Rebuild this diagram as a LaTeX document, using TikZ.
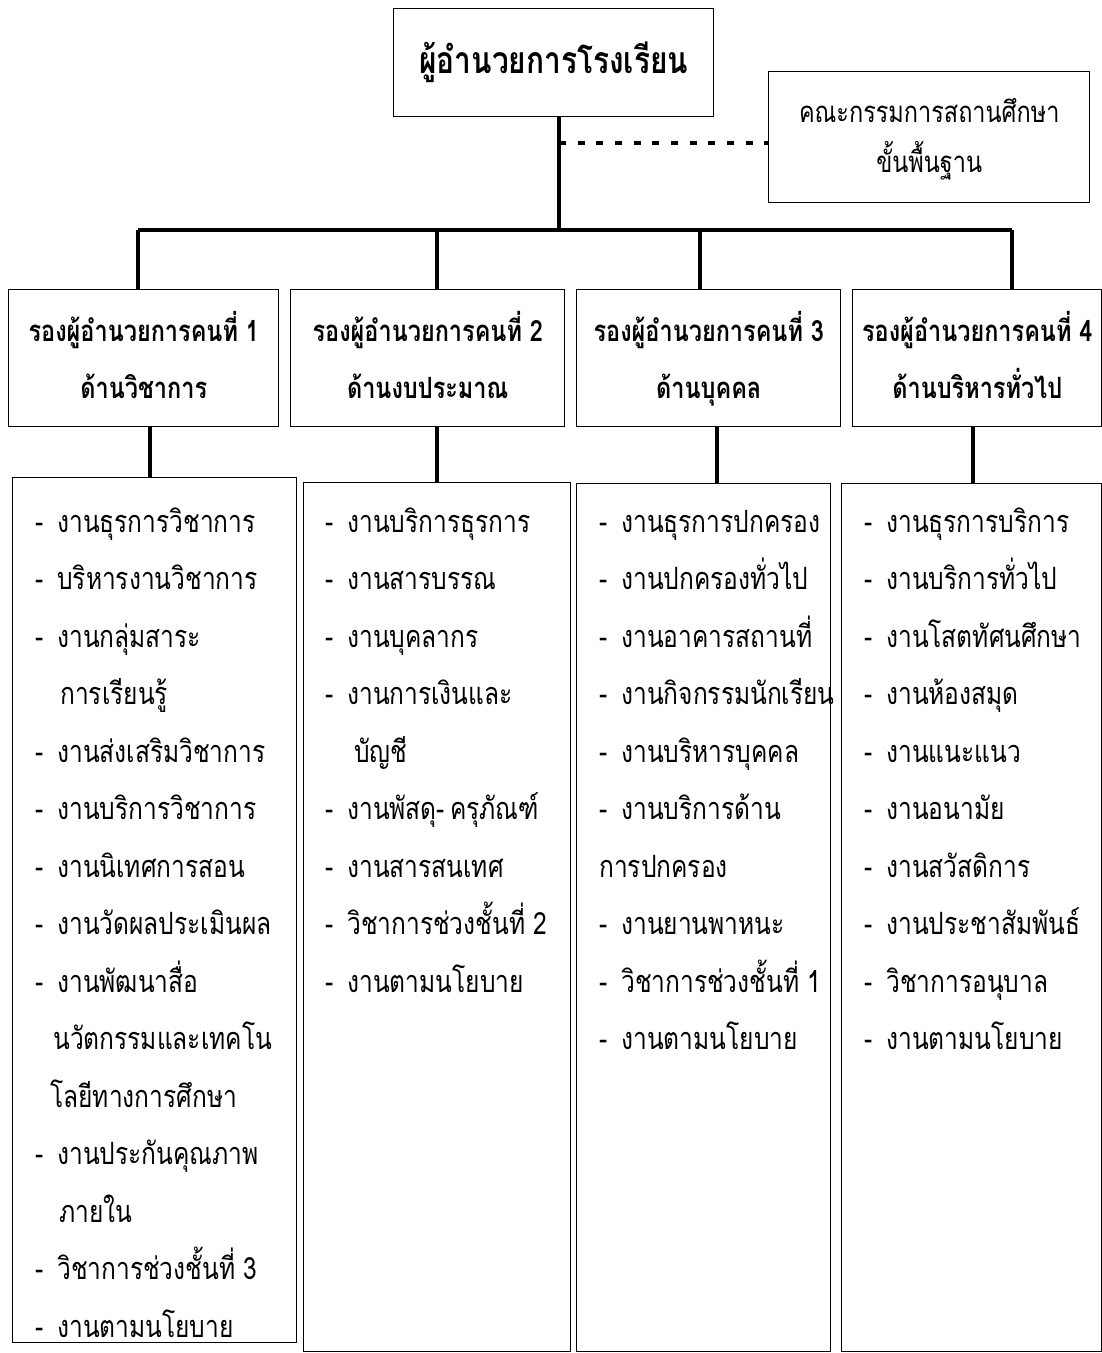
\documentclass[tikz,border=0pt]{standalone}
\usepackage{fontspec}
\newfontfamily\thai[Script=Thai,FakeStretch=0.8]{Loma}
\newfontfamily\thaihead[Script=Thai,FakeStretch=0.8]{Loma}
\newcommand\itm{\makebox[16.5pt][l]{-}}
\newcommand\listfont{\thai\fontsize{23}{43.1}\selectfont}
\newcommand\headfont{\thaihead\bfseries\fontsize{22}{42.75}\selectfont}
\newcommand\titlefont{\thaihead\bfseries\fontsize{28}{34}\selectfont}
\newcommand\comfont{\thai\fontsize{22}{37.5}\selectfont}
\begin{document}
\begin{tikzpicture}[x=0.75pt,y=-0.75pt,
  box/.style={draw, line width=1.1pt, inner sep=0pt, anchor=north west, align=center},
  listtext/.style={anchor=north west, inner sep=0pt, align=left, font=\listfont},
  conn/.style={line width=2.5pt},
  mainbar/.style={line width=3pt},
  dashconn/.style={line width=3pt, dash pattern=on 5.25pt off 8.75pt}]
\useasboundingbox (0,0) rectangle (1102,1353);

% top level
\node[box, minimum width={320*0.75pt}, minimum height={108*0.75pt}, font=\titlefont] (dir) at (393,8) {ผู้อำนวยการโรงเรียน};
\node[box, minimum width={321*0.75pt}, minimum height={131*0.75pt}, font=\comfont] (com) at (768,71) {\strut คณะกรรมการสถานศึกษา\\\strut ขั้นพื้นฐาน};

% deputy boxes
\node[box, minimum width={270*0.75pt}, minimum height={137*0.75pt}, font=\headfont] (h1) at (8,289) {\strut รองผู้อำนวยการคนที่ 1\\\strut ด้านวิชาการ};
\node[box, minimum width={274*0.75pt}, minimum height={137*0.75pt}, font=\headfont] (h2) at (290,289) {\strut รองผู้อำนวยการคนที่ 2\\\strut ด้านงบประมาณ};
\node[box, minimum width={264*0.75pt}, minimum height={137*0.75pt}, font=\headfont] (h3) at (576,289) {\strut รองผู้อำนวยการคนที่ 3\\\strut ด้านบุคคล};
\node[box, minimum width={249*0.75pt}, minimum height={137*0.75pt}, font=\headfont] (h4) at (852,289) {\strut รองผู้อำนวยการคนที่ 4\\\strut ด้านบริหารทั่วไป};

% list boxes
\node[box, minimum width={284*0.75pt}, minimum height={865*0.75pt}] (l1) at (12,477) {};
\node[box, minimum width={267*0.75pt}, minimum height={869*0.75pt}] (l2) at (303,482) {};
\node[box, minimum width={254*0.75pt}, minimum height={868*0.75pt}] (l3) at (576,483) {};
\node[box, minimum width={260*0.75pt}, minimum height={868*0.75pt}] (l4) at (841,483) {};

% list texts
\node[listtext] (t1) at (35,492) {%
\strut\itm งานธุรการวิชาการ\\
\strut\itm บริหารงานวิชาการ\\
\strut\itm งานกลุ่มสาระ\\
\strut\hspace*{18.75pt}การเรียนรู้\\
\strut\itm งานส่งเสริมวิชาการ\\
\strut\itm งานบริการวิชาการ\\
\strut\itm งานนิเทศการสอน\\
\strut\itm งานวัดผลประเมินผล\\
\strut\itm งานพัฒนาสื่อ\\
\strut\hspace*{13.5pt}นวัตกรรมและเทคโน\\
\strut\hspace*{11.25pt}โลยีทางการศึกษา\\
\strut\itm งานประกันคุณภาพ\\
\strut\hspace*{18pt}ภายใน\\
\strut\itm วิชาการช่วงชั้นที่ 3\\
\strut\itm งานตามนโยบาย};
\node[listtext] (t2) at (325,492) {%
\strut\itm งานบริการธุรการ\\
\strut\itm งานสารบรรณ\\
\strut\itm งานบุคลากร\\
\strut\itm งานการเงินและ\\
\strut\hspace*{21.75pt}บัญชี\\
\strut\itm งานพัสดุ-\,ครุภัณฑ์\\
\strut\itm งานสารสนเทศ\\
\strut\itm วิชาการช่วงชั้นที่ 2\\
\strut\itm งานตามนโยบาย};
\node[listtext] (t3) at (599,492) {%
\strut\itm งานธุรการปกครอง\\
\strut\itm งานปกครองทั่วไป\\
\strut\itm งานอาคารสถานที่\\
\strut\itm งานกิจกรรมนักเรียน\\
\strut\itm งานบริหารบุคคล\\
\strut\itm งานบริการด้าน\\
\strut การปกครอง\\
\strut\itm งานยานพาหนะ\\
\strut\itm วิชาการช่วงชั้นที่ 1\\
\strut\itm งานตามนโยบาย};
\node[listtext] (t4) at (864,492) {%
\strut\itm งานธุรการบริการ\\
\strut\itm งานบริการทั่วไป\\
\strut\itm งานโสตทัศนศึกษา\\
\strut\itm งานห้องสมุด\\
\strut\itm งานแนะแนว\\
\strut\itm งานอนามัย\\
\strut\itm งานสวัสดิการ\\
\strut\itm งานประชาสัมพันธ์\\
\strut\itm วิชาการอนุบาล\\
\strut\itm งานตามนโยบาย};

% connectors
\coordinate (junc) at (559,230);
\coordinate (dsh) at (559,143);
\coordinate (b1) at (138,230);
\coordinate (b2) at (437,230);
\coordinate (b3) at (700,230);
\coordinate (b4) at (1012,230);
\draw[conn] (junc |- dir.south) -- (junc);
\draw[dashconn] (dsh) -- (dsh -| com.west);
\draw[mainbar] (b1) -- (b4);
\draw[conn] (b1) -- (b1 |- h1.north);
\draw[conn] (b2) -- (b2 |- h2.north);
\draw[conn] (b3) -- (b3 |- h3.north);
\draw[conn] (b4) -- (b4 |- h4.north);
\coordinate (c1) at (150,0);
\coordinate (c2) at (437,0);
\coordinate (c3) at (717,0);
\coordinate (c4) at (973,0);
\draw[conn] (c1 |- h1.south) -- (c1 |- l1.north);
\draw[conn] (c2 |- h2.south) -- (c2 |- l2.north);
\draw[conn] (c3 |- h3.south) -- (c3 |- l3.north);
\draw[conn] (c4 |- h4.south) -- (c4 |- l4.north);
\end{tikzpicture}
\end{document}
